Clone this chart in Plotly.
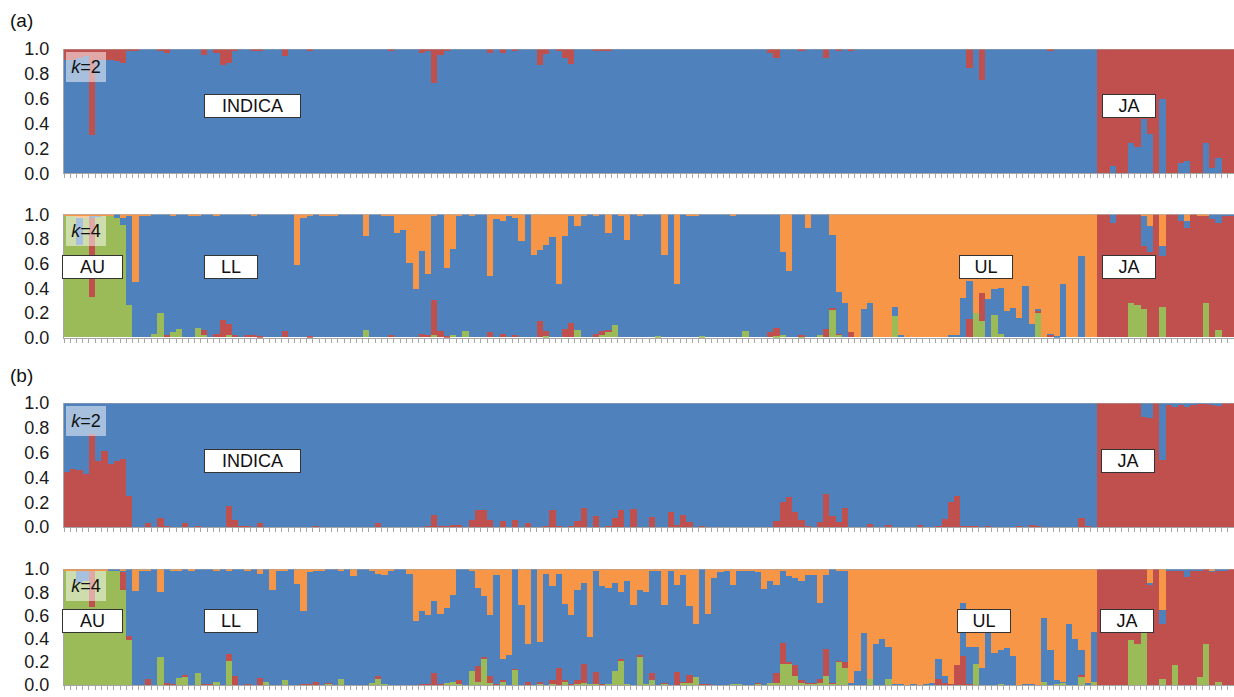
import plotly.graph_objects as go

# Admixture proportions per sample (bar), clusters of the STRUCTURE runs
BLUE, RED, GREEN, ORANGE = "#4F81BD", "#C0504D", "#9BBB59", "#F79646"
AXIS_GREY = "#A6A6A6"
FONT = "Liberation Sans, Arial, Helvetica, sans-serif"

samples = list(range(188))
y_ticks = [0, 0.2, 0.4, 0.6, 0.8, 1.0]
y_tick_text = ["0.0", "0.2", "0.4", "0.6", "0.8", "1.0"]

# ---------------- (a) k=2 ----------------
blue_a2 = [
    .91, .91, .93, .94, .31, .91, .91, .91, .90, .89,
    .98, .99, 1, 1, 1, .99, .97, 1, 1, 1,
    1, 1, .95, 1, .97, .87, .89, .98, 1, 1,
    .98, .99, 1, 1, 1, .94, 1, 1, 1, .98,
    1, 1, 1, 1, 1, 1, 1, 1, 1, 1,
    1, 1, .99, 1, 1, 1, 1, .97, .99, .73,
    .95, .99, 1, 1, 1, 1, 1, 1, .97, 1,
    .97, 1, .99, 1, 1, 1, .87, .96, 1, .99,
    .93, .88, 1, 1, 1, .98, .98, .99, 1, 1,
    1, 1, 1, 1, 1, 1, 1, 1, 1, 1,
    1, 1, 1, 1, 1, 1, 1, 1, 1, 1,
    1, 1, 1, .97, .93, 1, 1, 1, .99, 1,
    1, 1, .93, 1, .98, 1, .98, 1, 1, 1,
    1, 1, 1, 1, 1, 1, 1, 1, 1, 1,
    1, 1, 1, 1, 1, .85, 1, .75, 1, 1,
    1, 1, 1, 1, 1, 1, 1, 1, .99, 1,
    1, 1, 1, 1, 1, 1,
    0, 0, .06, 0, 0, .24, .21, .44, .32, 0,
    .60, 0, 0, .08, .10, 0, 0, .24, .04, .12, 0, 0,
]
red_a2 = [
    .09, .09, .07, .06, .69, .09, .09, .09, .10, .11,
    .02, .01, 0, 0, 0, .01, .03, 0, 0, 0,
    0, 0, .05, 0, .03, .13, .11, .02, 0, 0,
    .02, .01, 0, 0, 0, .06, 0, 0, 0, .02,
    0, 0, 0, 0, 0, 0, 0, 0, 0, 0,
    0, 0, .01, 0, 0, 0, 0, .03, .01, .27,
    .05, .01, 0, 0, 0, 0, 0, 0, .03, 0,
    .03, 0, .01, 0, 0, 0, .13, .04, 0, .01,
    .07, .12, 0, 0, 0, .02, .02, .01, 0, 0,
    0, 0, 0, 0, 0, 0, 0, 0, 0, 0,
    0, 0, 0, 0, 0, 0, 0, 0, 0, 0,
    0, 0, 0, .03, .07, 0, 0, 0, .01, 0,
    0, 0, .07, 0, .02, 0, .02, 0, 0, 0,
    0, 0, 0, 0, 0, 0, 0, 0, 0, 0,
    0, 0, 0, 0, 0, .15, 0, .25, 0, 0,
    0, 0, 0, 0, 0, 0, 0, 0, .01, 0,
    0, 0, 0, 0, 0, 0,
    1, 1, .94, 1, 1, .76, .79, .56, .68, 1,
    .40, 1, 1, .92, .90, 1, 1, .76, .96, .88, 1, 1,
]

# ---------------- (a) k=4 ----------------
green_a4 = [
    .98, .98, .75, .97, .33, .98, .98, .99, .97, .91,
    .26, 0, 0, 0, .03, .20, 0, .04, .07, 0,
    0, .08, .02, 0, 0, 0, .02, 0, 0, 0,
    0, 0, 0, 0, 0, 0, 0, 0, 0, 0,
    0, 0, 0, 0, 0, 0, 0, 0, .06, 0,
    0, 0, 0, 0, 0, 0, 0, 0, 0, .02,
    0, 0, .02, 0, .05, 0, 0, 0, 0, 0,
    0, 0, 0, 0, 0, 0, 0, .01, 0, 0,
    0, 0, .06, 0, 0, 0, .02, .05, .10, 0,
    0, 0, 0, 0, 0, .01, 0, 0, 0, 0,
    0, 0, .01, 0, 0, 0, 0, 0, 0, .05,
    0, 0, 0, 0, .01, .02, 0, 0, .01, 0,
    0, .02, 0, .22, .02, 0, 0, 0, 0, 0,
    0, 0, 0, .17, 0, 0, 0, 0, 0, 0,
    0, 0, 0, 0, 0, 0, .20, .13, 0, .18,
    .03, 0, 0, 0, 0, 0, .20, 0, 0, 0,
    0, 0, 0, 0, 0, 0,
    0, 0, 0, 0, 0, .28, .26, .23, 0, 0,
    .25, 0, 0, 0, 0, 0, 0, .28, 0, .06, 0, 0,
]
red_a4 = [
    0, 0, 0, 0, .64, 0, 0, 0, 0, 0,
    0, 0, 0, 0, 0, 0, .02, 0, 0, 0,
    0, 0, .04, 0, .03, .14, .09, .02, 0, .02,
    .02, .01, 0, 0, 0, .05, 0, 0, 0, .01,
    0, 0, 0, 0, 0, 0, 0, 0, 0, 0,
    0, 0, .02, 0, 0, 0, 0, .03, .02, .28,
    .05, .01, 0, 0, 0, 0, 0, 0, .04, 0,
    .03, 0, .02, 0, 0, 0, .13, .04, 0, 0,
    .07, .12, 0, 0, 0, .03, .03, .01, 0, 0,
    0, 0, 0, 0, 0, 0, 0, 0, 0, 0,
    0, 0, 0, 0, 0, 0, 0, 0, 0, 0,
    0, 0, 0, .04, .07, 0, 0, 0, .01, 0,
    0, 0, .07, .02, .01, 0, .04, 0, 0, 0,
    0, 0, 0, 0, 0, 0, 0, 0, 0, 0,
    0, 0, 0, 0, 0, .15, 0, .23, 0, 0,
    0, 0, 0, 0, 0, 0, .01, 0, .02, 0,
    0, 0, 0, 0, 0, 0,
    1, 1, .93, 1, 1, .72, .74, .51, .69, 1,
    .41, 1, 1, .94, .89, 1, .99, .71, .96, .87, .98, .99,
]
blue_a4 = [
    0, 0, .22, 0, .02, .01, 0, 0, .03, .06,
    .72, .45, .99, .99, .97, .80, .98, .95, .93, 1,
    .99, .91, .94, 1, .95, .86, .89, .98, 1, .98,
    .97, .99, 1, 1, 1, .95, 1, .59, .97, .97,
    1, .99, .99, .99, 1, 1, 1, 1, .76, 1,
    1, .99, .97, .85, .87, .60, .39, .67, .49, .69,
    .95, .55, .70, .98, .95, .99, 1, 1, .46, .96,
    .91, .98, .95, .78, 1, .67, .58, .70, .81, .43,
    .75, .87, .84, .99, 1, .95, .95, .79, .90, .99,
    .79, 1, .99, 1, 1, .99, .67, 1, .43, 1,
    .99, .99, .99, 1, 1, 1, 1, .99, 1, .95,
    1, 1, 1, .96, .92, .67, .54, 1, .98, .89,
    1, .98, .93, .59, .34, .28, 0, 0, .23, .28,
    0, 0, 0, .08, .02, 0, 0, 0, 0, 0,
    0, 0, .02, .02, .32, .31, 0, 0, .31, .21,
    .37, .21, .24, .16, .42, .11, .02, 0, .01, .01,
    .43, 0, 0, .66, 0, 0,
    0, 0, .07, 0, 0, 0, 0, .24, .21, 0,
    .08, 0, 0, .06, .05, 0, 0, 0, .04, .07, .02, .01,
]
orange_a4 = [
    .02, .02, .03, .03, .01, .01, .02, .01, 0, .03,
    .02, .55, .01, .01, 0, 0, 0, .01, 0, 0,
    .01, .01, 0, 0, .02, 0, 0, 0, 0, 0,
    .01, 0, 0, 0, 0, 0, 0, .41, .03, .02,
    0, .01, .01, .01, 0, 0, 0, 0, .18, 0,
    0, .01, .01, .15, .13, .40, .61, .30, .49, .01,
    0, .44, .28, .02, 0, .01, 0, 0, .50, .04,
    .06, .02, .03, .22, 0, .33, .29, .25, .19, .57,
    .18, .01, .10, .01, 0, .02, 0, .15, 0, .01,
    .21, 0, .01, 0, 0, 0, .33, 0, .57, 0,
    .01, .01, 0, 0, 0, 0, 0, .01, 0, 0,
    0, 0, 0, 0, 0, .31, .46, 0, 0, .11,
    0, 0, 0, .17, .63, .72, .96, 1, .77, .72,
    1, 1, 1, .75, .98, 1, 1, 1, 1, 1,
    1, 1, .98, .98, .68, .54, .80, .64, .69, .61,
    .60, .79, .76, .84, .58, .89, .77, 1, .97, .99,
    .57, 1, 1, .34, 1, 1,
    0, 0, 0, 0, 0, 0, 0, .02, .10, 0,
    .26, 0, 0, 0, .06, 0, .01, .01, 0, 0, 0, 0,
]

# ---------------- (b) k=2 ----------------
red_b2 = [
    .44, .47, .46, .43, .75, .53, .61, .51, .53, .55,
    .25, 0, 0, .03, 0, .07, .01, 0, 0, .03,
    0, .01, 0, 0, 0, 0, .17, .06, .01, .01,
    0, .03, 0, 0, 0, 0, 0, 0, 0, 0,
    .01, 0, 0, 0, 0, 0, 0, 0, 0, 0,
    .03, 0, 0, 0, 0, 0, 0, 0, .01, .10,
    .01, .01, .015, .015, 0, .06, .14, .14, .06, 0,
    .05, 0, .06, 0, .035, 0, 0, .01, .14, .01,
    0, .01, .05, .15, 0, .085, 0, .01, .07, .135,
    0, .145, 0, 0, .08, 0, 0, .12, .02, .10,
    .04, 0, .005, 0, 0, 0, 0, 0, 0, 0,
    0, 0, 0, 0, .05, .20, .24, .12, .06, .01,
    0, .04, .27, .085, .04, .15, 0, 0, 0, .025,
    0, 0, .015, 0, 0, 0, 0, .015, 0, 0,
    .005, .065, .20, .25, .005, .005, .005, 0, .005, 0,
    0, 0, 0, .01, 0, .02, .01, 0, 0, 0,
    0, 0, 0, .075, .01, 0,
    1, 1, 1, 1, 1, 1, 1, .89, .88, 1,
    .54, .99, .97, .99, .97, .99, .995, .995, .98, .975, 1, 1,
]
blue_b2 = [
    .56, .53, .54, .57, .25, .47, .39, .49, .47, .45,
    .75, 1, 1, .97, 1, .93, .99, 1, 1, .97,
    1, .99, 1, 1, 1, 1, .83, .94, .99, .99,
    1, .97, 1, 1, 1, 1, 1, 1, 1, 1,
    .99, 1, 1, 1, 1, 1, 1, 1, 1, 1,
    .97, 1, 1, 1, 1, 1, 1, 1, .99, .90,
    .99, .99, .985, .985, 1, .94, .86, .86, .94, 1,
    .95, 1, .94, 1, .965, 1, 1, .99, .86, .99,
    1, .99, .95, .85, 1, .915, 1, .99, .93, .865,
    1, .855, 1, 1, .92, 1, 1, .88, .98, .90,
    .96, 1, .995, 1, 1, 1, 1, 1, 1, 1,
    1, 1, 1, 1, .95, .80, .76, .88, .94, .99,
    1, .96, .73, .915, .96, .85, 1, 1, 1, .975,
    1, 1, .985, 1, 1, 1, 1, .985, 1, 1,
    .995, .935, .80, .75, .995, .995, .995, 1, .995, 1,
    1, 1, 1, .99, 1, .98, .99, 1, 1, 1,
    1, 1, 1, .925, .99, 1,
    0, 0, 0, 0, 0, 0, 0, .11, .12, 0,
    .46, .01, .03, .01, .03, .01, .005, .005, .02, .025, 0, 0,
]

# ---------------- (b) k=4 ----------------
green_b4 = [
    .99, .99, .88, .90, .67, .99, .99, .99, .99, .82,
    .39, 0, 0, 0, 0, .24, 0, 0, .06, .07,
    0, .10, 0, 0, .03, 0, .21, 0, 0, 0,
    0, 0, .03, 0, 0, .04, 0, 0, 0, 0,
    0, 0, .01, 0, .05, 0, 0, 0, 0, .02,
    .05, .01, 0, 0, 0, 0, 0, 0, 0, 0,
    0, .02, .03, .01, 0, .12, .03, .23, .02, 0,
    .03, 0, .13, 0, 0, 0, .01, 0, .01, 0,
    .03, 0, .01, .02, .01, .01, 0, .01, .12, .21,
    .01, 0, .24, .01, .04, 0, .01, 0, 0, .02,
    .02, .07, 0, 0, 0, 0, 0, .01, .01, 0,
    0, .01, 0, .02, .02, .18, .18, .08, .02, .01,
    .01, .02, .08, .01, .20, .15, 0, 0, 0, .05,
    0, 0, .05, 0, 0, 0, 0, 0, 0, 0,
    0, 0, 0, 0, 0, 0, .18, 0, 0, 0,
    .01, 0, 0, 0, 0, 0, 0, .03, 0, .01,
    .02, 0, 0, .07, 0, .03,
    0, 0, 0, 0, 0, .39, .35, .48, 0, 0,
    .05, 0, .17, 0, 0, 0, .07, .35, 0, .03, 0, 0,
]
red_b4 = [
    0, 0, 0, 0, .32, 0, 0, 0, 0, .15,
    .03, 0, 0, .05, 0, 0, .02, .01, 0, .02,
    0, 0, .01, .01, 0, 0, .06, .08, 0, .01,
    0, .06, 0, 0, 0, 0, 0, 0, .01, .01,
    .03, 0, .01, 0, 0, 0, 0, 0, 0, 0,
    .03, 0, 0, 0, 0, 0, 0, .01, .01, .10,
    .01, 0, 0, .03, 0, 0, .13, .01, .06, .01,
    .01, 0, .01, 0, .03, 0, .02, 0, .03, .15,
    .01, .01, .03, .16, 0, .10, .01, 0, 0, .01,
    0, 0, .02, 0, .06, 0, .01, 0, .11, .01,
    .07, 0, .01, .01, 0, 0, 0, 0, 0, 0,
    0, .01, 0, 0, .08, .18, .02, .09, .02, .01,
    .01, .03, .23, .01, .01, .05, 0, 0, 0, 0,
    0, 0, 0, 0, 0, 0, 0, 0, 0, 0,
    .05, .02, .01, .17, .25, .01, 0, 0, 0, 0,
    0, 0, 0, 0, 0, 0, 0, 0, 0, 0,
    0, 0, 0, .02, 0, 0,
    1, 1, 1, 1, 1, .61, .65, .52, .86, 1,
    .48, .99, .82, .99, .93, .99, .92, .65, .98, .95, .99, 1,
]
blue_b4 = [
    0, 0, .11, .09, 0, 0, 0, .01, .01, .02,
    .58, .81, .98, .94, 1, .56, .98, .98, .93, .91,
    .99, .90, .99, .99, .95, 1, .72, .92, 1, .97,
    1, .90, .97, .82, .99, .95, 1, .87, .63, .96,
    .96, .99, .98, 1, .94, 1, .94, 1, 1, .97,
    .88, .94, .99, 1, 1, .96, .55, .63, .59, .62,
    .60, .64, .75, .96, 1, .87, .68, .53, .52, .94,
    .18, .26, .86, .69, .32, 1, .34, .96, .81, .81,
    .66, .59, .78, .70, .40, .87, .84, .83, .76, .58,
    .89, .69, .56, .79, .88, .98, .67, .98, .75, .92,
    .59, .46, .99, .60, .92, .97, .98, .85, .97, .98,
    .99, .95, .83, .88, .76, .63, .74, .75, .86, .93,
    .93, .66, .64, .98, .77, .78, .02, .12, .45, 0,
    .35, .40, .28, .01, .01, 0, .01, 0, .01, .02,
    .17, .06, 0, 0, .46, .32, .15, .15, .47, .28,
    .29, .32, .25, 0, .01, .01, 0, .55, .30, .03,
    .01, .53, .40, .21, .02, .43,
    0, 0, 0, 0, 0, 0, 0, 0, .02, 0,
    .12, .01, .01, .01, .07, .01, .01, 0, .01, .02, .01, 0,
]
orange_b4 = [
    .01, .01, .01, .01, .01, .01, .01, 0, 0, .01,
    0, .19, .02, .01, 0, .20, 0, .01, .01, 0,
    .01, 0, 0, 0, .02, 0, .01, 0, 0, .02,
    0, .04, 0, .18, .01, .01, 0, .13, .36, .03,
    .01, .01, 0, 0, .01, 0, .06, 0, 0, .01,
    .04, .05, .01, 0, 0, .04, .45, .36, .40, .28,
    .39, .34, .22, 0, 0, .01, .16, .23, .40, .05,
    .78, .74, 0, .31, .65, 0, .63, .04, .15, .04,
    .30, .40, .18, .12, .59, .02, .15, .16, .12, .20,
    .10, .31, .18, .20, .02, .02, .31, .02, .14, .05,
    .32, .47, 0, .39, .08, .03, .02, .14, .02, .02,
    .01, .03, .17, .10, .14, .01, .06, .08, .10, .05,
    .05, .29, .05, 0, .02, .02, .98, .88, .55, .95,
    .65, .60, .67, .99, .99, 1, .99, 1, .99, .98,
    .78, .92, .99, .83, .29, .67, .67, .85, .53, .72,
    .70, .68, .75, 1, .99, .99, 1, .42, .70, .96,
    .97, .47, .60, .70, .98, .54,
    0, 0, 0, 0, 0, 0, 0, 0, .12, 0,
    .35, 0, 0, 0, 0, 0, 0, 0, .01, 0, 0, 0,
]

# Panel layout: vertical domain, stacked series (bottom -> top), group boxes, k label
panels = [
    dict(domain=[0.7514, 0.9297],
         stack=[(blue_a2, BLUE), (red_a2, RED)],
         groups=[("INDICA", 29.85, 97), ("JA", 170.7, 54)], label_y=0.541,
         k="2", k_y=0.858),
    dict(domain=[0.5155, 0.6925],
         stack=[(green_a4, GREEN), (red_a4, RED), (blue_a4, BLUE), (orange_a4, ORANGE)],
         groups=[("AU", 4.14, 61), ("LL", 26.4, 54), ("UL", 147.6, 54), ("JA", 170.7, 54)],
         label_y=0.573, k="4", k_y=0.865),
    dict(domain=[0.2439, 0.4218],
         stack=[(red_b2, RED), (blue_b2, BLUE)],
         groups=[("INDICA", 29.85, 97), ("JA", 170.5, 54)], label_y=0.536,
         k="2", k_y=0.855),
    dict(domain=[0.0172, 0.1836],
         stack=[(green_b4, GREEN), (red_b4, RED), (blue_b4, BLUE), (orange_b4, ORANGE)],
         groups=[("AU", 4.14, 61), ("LL", 26.4, 54), ("UL", 147.3, 54), ("JA", 170.3, 54)],
         label_y=0.55, k="4", k_y=0.855),
]

fig = go.Figure()
annotations = []
shapes = []

for n, p in enumerate(panels, start=1):
    sfx = "" if n == 1 else str(n)
    for values, color in p["stack"]:
        fig.add_trace(go.Bar(
            x=samples, y=values, width=1,
            marker=dict(color=color, line=dict(width=0)),
            xaxis="x" + sfx, yaxis="y" + sfx, hoverinfo="skip",
        ))
    fig.layout["xaxis" + sfx] = dict(
        domain=[0, 1], anchor="y" + sfx, range=[-0.5, 187.5], automargin=False,
        tickmode="linear", tick0=-0.5, dtick=1, ticks="outside", ticklen=4,
        tickwidth=1, tickcolor=AXIS_GREY, showticklabels=False,
        showline=True, linecolor=AXIS_GREY, linewidth=1,
        showgrid=False, zeroline=False, fixedrange=True,
    )
    fig.layout["yaxis" + sfx] = dict(
        domain=p["domain"], anchor="x" + sfx, range=[0, 1], automargin=False,
        tickmode="array", tickvals=y_ticks, ticktext=y_tick_text,
        ticks="", ticklabelstandoff=10, ticklabeloverflow="allow",
        tickfont=dict(family=FONT, size=18, color="#1a1a1a"),
        showline=True, linecolor=AXIS_GREY, linewidth=1,
        showgrid=False, zeroline=False, fixedrange=True,
    )
    # top border of the plot area
    shapes.append(dict(type="line", xref="x" + sfx + " domain", yref="y" + sfx,
                       x0=0, x1=1, y0=1, y1=1, layer="above",
                       line=dict(color=AXIS_GREY, width=1)))
    # translucent k label
    annotations.append(dict(
        xref="x" + sfx, yref="y" + sfx, x=3.1, y=p["k_y"],
        text="<i>k</i>=" + p["k"], showarrow=False,
        width=40, height=30, align="center", valign="middle",
        bgcolor="rgba(255,255,255,0.5)", borderwidth=0, borderpad=0,
        font=dict(family=FONT, size=18, color="#111111"),
    ))
    # group name boxes
    for text, xc, w in p["groups"]:
        annotations.append(dict(
            xref="x" + sfx, yref="y" + sfx, x=xc, y=p["label_y"],
            text=text, showarrow=False, width=w - 2, height=22,
            align="center", valign="middle",
            bgcolor="white", bordercolor="#333333", borderwidth=1, borderpad=0,
            font=dict(family=FONT, size=18, color="#111111"),
        ))

# panel letters
for letter, yp in (("(a)", 0.9699), ("(b)", 0.4606)):
    annotations.append(dict(
        xref="paper", yref="paper", x=-0.0479, y=yp, xanchor="left", yanchor="middle",
        text=letter, showarrow=False, font=dict(family=FONT, size=19, color="#111111"),
    ))

fig.update_layout(
    width=1234, height=697,
    margin=dict(l=64, r=0, t=0, b=0, autoexpand=False),
    barmode="stack", bargap=0, showlegend=False,
    plot_bgcolor="white", paper_bgcolor="white",
    annotations=annotations, shapes=shapes,
)

fig.write_html("out.html")
